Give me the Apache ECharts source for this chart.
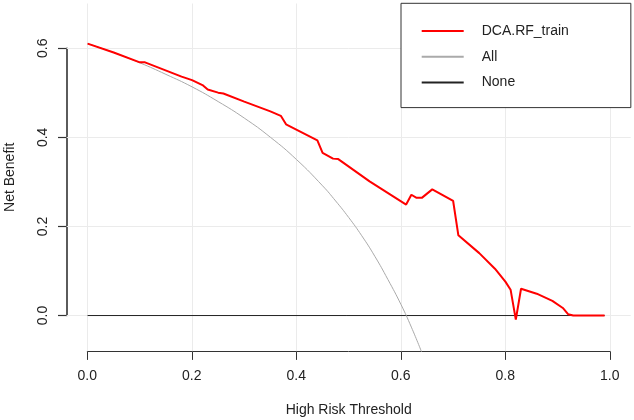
<!DOCTYPE html>
<html>
<head>
<meta charset="utf-8">
<script src="https://cdn.jsdelivr.net/npm/echarts@6/dist/echarts.min.js"></script>
<style>
html,body{margin:0;padding:0;background:#fff;}
#chart{width:634px;height:420px;}
</style>
</head>
<body>
<div id="chart"></div>
<script>
// ---- data ----
var xTicks = [0, 0.2, 0.4, 0.6, 0.8, 1.0];
var yTicks = [0, 0.2, 0.4, 0.6];

var rfX = [0, 0.05, 0.10, 0.11, 0.18, 0.20, 0.22, 0.23, 0.25, 0.26, 0.30, 0.35, 0.37, 0.38, 0.44, 0.45, 0.47, 0.48, 0.54, 0.61, 0.62, 0.63, 0.64, 0.66, 0.70, 0.71, 0.75, 0.78, 0.80, 0.81, 0.82, 0.83, 0.86, 0.89, 0.91, 0.92, 0.93, 0.99];
var rfY = [0.610, 0.590, 0.568, 0.568, 0.536, 0.528, 0.517, 0.507, 0.500, 0.498, 0.480, 0.458, 0.448, 0.429, 0.393, 0.365, 0.352, 0.351, 0.301, 0.249, 0.271, 0.264, 0.264, 0.283, 0.257, 0.180, 0.140, 0.105, 0.076, 0.058, -0.009, 0.060, 0.049, 0.033, 0.017, 0.003, 0, 0];

var allX = [0, 0.05, 0.10, 0.15, 0.20, 0.25, 0.30, 0.35, 0.40, 0.45, 0.475, 0.50, 0.525, 0.55, 0.575, 0.60, 0.62, 0.64];
var allY = [0.610, 0.590, 0.567, 0.541, 0.513, 0.480, 0.443, 0.400, 0.350, 0.291, 0.257, 0.220, 0.179, 0.133, 0.081, 0.025, -0.026, -0.083];

var noneX = [0, 0.99];
var noneY = [0, 0];

function zip(a, b) { return a.map(function (v, i) { return [v, b[i]]; }); }

var FONT = 'Liberation Sans, Arial, Helvetica, sans-serif';
var TXT = '#222';
var AX = '#333';
var PLOT_XMIN = -0.04, PLOT_XMAX = 1.04, PLOT_YMIN = -0.08, PLOT_YMAX = 0.70;
var TICK_LEN = 8.7;

var gridLines = [];
xTicks.forEach(function (v) { gridLines.push({ xAxis: v }); });
yTicks.forEach(function (v) { gridLines.push({ yAxis: v }); });

var hiddenAxis = {
  axisLine: { show: false, onZero: false }, axisTick: { show: false },
  axisLabel: { show: false }, splitLine: { show: false }
};

var option = {
  animation: false,
  backgroundColor: '#fff',
  textStyle: { fontFamily: FONT },
  grid: [
    { left: 87.3, right: 24.2, top: 48.3, bottom: 104.5, containLabel: false, outerBoundsMode: 'none' },
    { left: 66.7, right: 3.3, top: 3.5, bottom: 68.8, containLabel: false, outerBoundsMode: 'none' },
    { left: 66.7, width: 20, top: 48.3, bottom: 104.5, containLabel: false, outerBoundsMode: 'none' }
  ],
  xAxis: [
    {
      gridIndex: 0, type: 'value', position: 'bottom', min: 0, max: 1, interval: 0.2, offset: 35.7,
      axisLine: { show: true, onZero: false, lineStyle: { color: AX, width: 1 } },
      axisTick: { show: true, inside: false, length: TICK_LEN, lineStyle: { color: AX, width: 1 } },
      axisLabel: { show: true, margin: 18, color: TXT, fontSize: 14, fontFamily: FONT,
        formatter: function (v) { return v.toFixed(1); } },
      splitLine: { show: false }
    },
    Object.assign({}, hiddenAxis, {
      gridIndex: 1, type: 'value', min: PLOT_XMIN, max: PLOT_XMAX,
      name: 'High Risk Threshold', nameLocation: 'middle', nameGap: 52,
      nameTextStyle: { color: TXT, fontSize: 14, fontFamily: FONT }
    }),
    Object.assign({}, hiddenAxis, { gridIndex: 2, type: 'value', min: 0, max: 1 })
  ],
  yAxis: [
    Object.assign({}, hiddenAxis, { gridIndex: 0, type: 'value', min: 0, max: 0.6 }),
    Object.assign({}, hiddenAxis, {
      gridIndex: 1, type: 'value', min: PLOT_YMIN, max: PLOT_YMAX,
      name: 'Net Benefit', nameLocation: 'middle', nameGap: 50,
      nameTextStyle: { color: TXT, fontSize: 14, fontFamily: FONT }
    }),
    {
      gridIndex: 2, type: 'value', position: 'left', show: true, min: 0, max: 0.6, interval: 0.2,
      axisLine: { show: true, onZero: false, lineStyle: { color: AX, width: 1.6 } },
      axisTick: { show: true, inside: false, length: TICK_LEN, lineStyle: { color: AX, width: 1.2 } },
      axisLabel: { show: true, rotate: 90, margin: 16.5, color: TXT, fontSize: 14, fontFamily: FONT,
        formatter: function (v) { return v.toFixed(1); } },
      splitLine: { show: false }
    }
  ],
  legend: {
    data: ['DCA.RF_train', 'All', 'None'],
    orient: 'vertical',
    left: 401, top: 3.3,
    padding: [20.7, 62, 18, 19.7],
    itemWidth: 42, itemHeight: 14, itemGap: 11.8,
    backgroundColor: '#fff',
    borderColor: AX, borderWidth: 1, borderRadius: 0,
    itemStyle: { opacity: 0 },
    textStyle: { color: TXT, fontSize: 14, fontFamily: FONT, padding: [0, 0, 0, 13] }
  },
  series: [
    {
      name: 'grid', type: 'line', xAxisIndex: 1, yAxisIndex: 1, data: [], z: 1,
      markLine: {
        z: 1, silent: true, symbol: ['none', 'none'], animation: false,
        label: { show: false },
        lineStyle: { color: '#ebebeb', width: 1, type: 'solid' },
        emphasis: { disabled: true },
        data: gridLines
      }
    },
    { name: 'xaxis', type: 'line', xAxisIndex: 0, yAxisIndex: 0, data: [], silent: true },
    { name: 'yaxis', type: 'line', xAxisIndex: 2, yAxisIndex: 2, data: [], silent: true },
    {
      name: 'None', type: 'line', xAxisIndex: 1, yAxisIndex: 1, z: 10,
      data: zip(noneX, noneY), symbol: 'none', showSymbol: false,
      lineStyle: { color: '#222', width: 1 }, itemStyle: { color: '#222' }
    },
    {
      name: 'All', type: 'line', xAxisIndex: 1, yAxisIndex: 1, z: 11, smooth: true,
      data: zip(allX, allY), symbol: 'none', showSymbol: false, clip: true,
      lineStyle: { color: '#aaaaaa', width: 1 }, itemStyle: { color: '#aaaaaa' }
    },
    {
      name: 'DCA.RF_train', type: 'line', xAxisIndex: 1, yAxisIndex: 1, z: 12,
      data: zip(rfX, rfY), symbol: 'none', showSymbol: false,
      lineStyle: { color: '#ff0000', width: 2 }, itemStyle: { color: '#ff0000' }
    }
  ]
};

var chart = echarts.init(document.getElementById('chart'), null, { renderer: 'canvas' });
chart.setOption(option);
</script>
</body>
</html>
